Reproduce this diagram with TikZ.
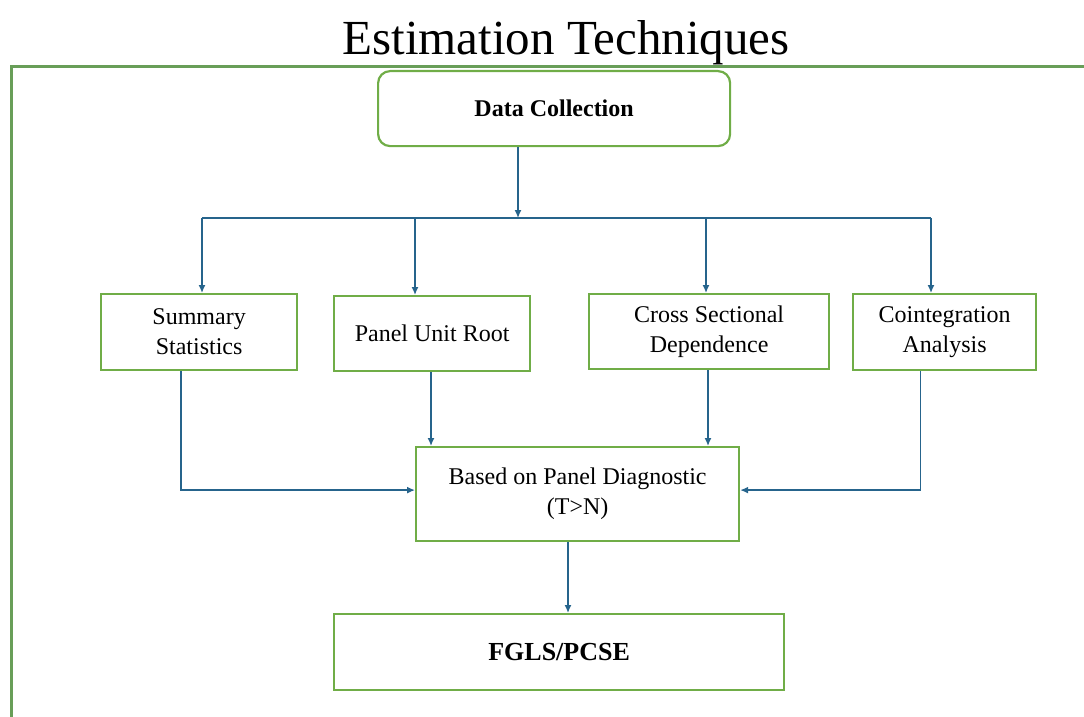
\documentclass[tikz,border=0pt]{standalone}
\usepackage{fontspec}
\setmainfont{Liberation Serif}
\usetikzlibrary{arrows.meta}
\definecolor{boxgreen}{RGB}{112,173,71}
\definecolor{framegreen}{RGB}{104,158,88}
\definecolor{arrowblue}{RGB}{38,100,140}
\tikzset{
	stage/.style={draw=boxgreen,line width=2.2pt,align=center,anchor=north west,inner sep=0pt,font=\fontsize{24}{30}\selectfont},
	flow/.style={draw=arrowblue,line width=1.4pt,-{Latex[length=8pt,width=7pt]}},
	wire/.style={draw=arrowblue,line width=1.4pt}
}
\begin{document}
\begin{tikzpicture}[x=1pt,y=-1pt]
			\useasboundingbox (0,0) rectangle (1084,717);
			\node[anchor=base,font=\fontsize{49}{54}\selectfont] (title) at (566,55) {Estimation Techniques};
			\draw[framegreen,line width=3pt] (11,717) -- (11,67) -- (1084,67);
			\node[stage,rounded corners=12pt,minimum width=352,minimum height=75,font=\fontsize{24}{30}\selectfont\bfseries] (data) at (377,70) {Data Collection};
			\node[stage,minimum width=196,minimum height=76] (summary) at (100,293) {Summary\\Statistics};
			\node[stage,minimum width=196,minimum height=75] (unitroot) at (333,295) {Panel Unit Root};
			\node[stage,minimum width=240,minimum height=75] (csd) at (588,293) {Cross Sectional\\Dependence};
			\node[stage,minimum width=183,minimum height=76] (coint) at (852,293) {Cointegration\\Analysis};
			\node[stage,minimum width=323,minimum height=94] (diag) at (415,446) {Based on Panel Diagnostic\\(T>N)};
			\node[stage,minimum width=450,minimum height=76,font=\fontsize{26}{30}\selectfont\bfseries] (fgls) at (333,613) {FGLS/PCSE};
			\coordinate (hub) at (518,218);
			\coordinate (busleft) at (202,218);
			\coordinate (busright) at (931,218);
			\draw[flow] (data.south -| hub) -- (hub);
			\draw[wire] (busleft) -- (busright);
			\foreach \n/\x in {summary/202,unitroot/415,csd/706,coint/931}{
				\coordinate (drop) at (\x,218);
				\draw[flow] (drop) -- (\n.north -| drop);
			}
			\draw[flow] ([xshift=-18pt]summary.south) |- ([yshift=4pt]diag.west);
			\draw[flow] ([xshift=-24pt]coint.south) |- ([yshift=4pt]diag.east);
			\draw[flow] (unitroot.south -| 431,0) -- (diag.north -| 431,0);
			\draw[flow] (csd.south -| 708,0) -- (diag.north -| 708,0);
			\draw[flow] (diag.south -| 568,0) -- (fgls.north -| 568,0);
\end{tikzpicture}
\end{document}
